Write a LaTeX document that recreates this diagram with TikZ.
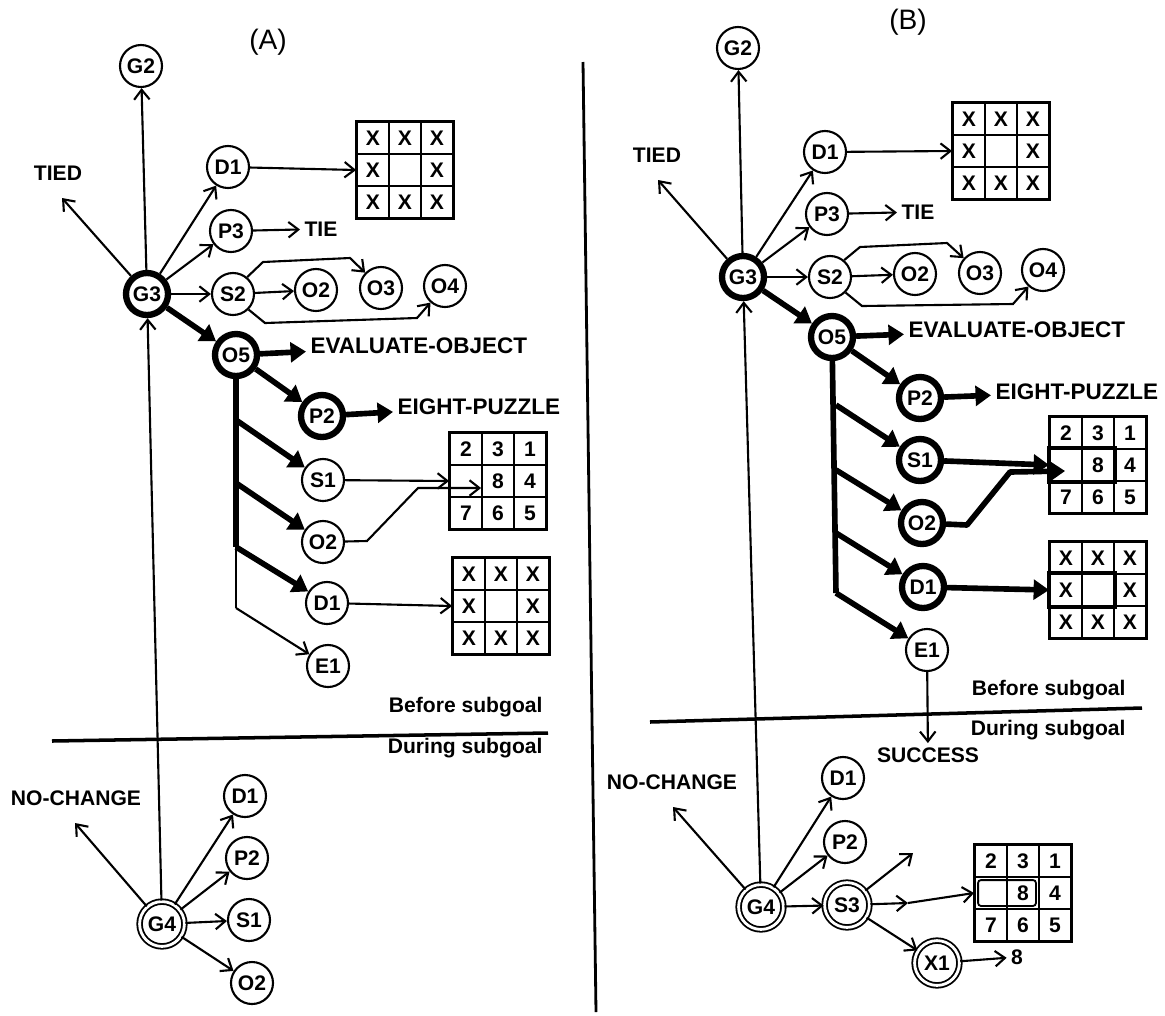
\documentclass[tikz,border=0pt]{standalone}
\usepackage{fontspec}
\setmainfont{Liberation Sans}
\usepackage{tikz}
\usetikzlibrary{arrows.meta,calc}
\tikzset{
	st/.style={circle,draw,line width=1.5pt,minimum size=1.05cm,inner sep=0pt,font=\fontsize{15}{17}\selectfont\bfseries},
	hst/.style={st,line width=4.5pt},
	dst/.style={st,double,double distance=2pt,line width=1.3pt,minimum size=1.12cm},
	cell/.style={draw,line width=1.3pt,minimum size=0.8cm,inner sep=0pt,font=\fontsize{15}{17}\selectfont\bfseries},
	lab/.style={font=\fontsize{15}{17}\selectfont\bfseries,inner sep=3pt},
	big/.style={font=\fontsize{16}{18}\selectfont\bfseries,inner sep=3pt},
	ttl/.style={font=\fontsize{20}{22}\selectfont},
	thn/.style={line width=1.5pt,-{Straight Barb[length=7pt,width=11pt]}},
	thk/.style={line width=4pt,line join=round,-{Triangle[length=11pt,width=14pt]}},
	rul/.style={line width=2.5pt}
}
\newcommand{\pzgrid}[3]{%
	\foreach \cv [count=\ix from 0] in {#3} {
		\pgfmathtruncatemacro\gr{\ix/3}
		\pgfmathtruncatemacro\gc{\ix-3*\gr}
		\node [cell] (#1-\ix) at ($(#2)+(\gc*32,\gr*32)$) {\cv};
	}
	\draw [line width=2pt] (#1-0.north west) rectangle (#1-8.south east);
}

\begin{document}
\begin{tikzpicture}[x=0.025cm,y=-0.025cm]
	\useasboundingbox (0,0) rectangle (1165,1015);

	\node [ttl] (ta) at (268,42) {(A)};
	\node [st] (g2a) at (141,66) {G2};
	\node [hst] (g3a) at (147,294) {G3};
	\node [st] (d1a) at (228,167) {D1};
	\node [st] (p3a) at (231,231) {P3};
	\node [st] (s2a) at (233,294) {S2};
	\node [st] (o2a) at (316,290) {O2};
	\node [st] (o3a) at (381,288) {O3};
	\node [st] (o4a) at (445,286) {O4};
	\node [hst] (o5a) at (236,355) {O5};
	\node [hst] (p2a) at (322,416) {P2};
	\node [st] (s1a) at (323,480) {S1};
	\node [st] (o2ba) at (323,542) {O2};
	\node [st] (d1ba) at (327,603) {D1};
	\node [st] (e1a) at (328,666) {E1};
	\node [dst] (g4a) at (162,924) {G4};
	\node [st] (d1ca) at (245,796) {D1};
	\node [st] (p2ca) at (247,858) {P2};
	\node [st] (s1ca) at (249,920) {S1};
	\node [st] (o2ca) at (252,983) {O2};

	\node [lab] (tieda) at (58,173) {TIED};
	\coordinate (tda) at (62,198);
	\node [lab,anchor=west] (tiea) at (300,229) {TIE};
	\node [big,anchor=west] (eva) at (306,346) {EVALUATE-OBJECT};
	\node [big,anchor=west] (epa) at (393,407) {EIGHT-PUZZLE};
	\node [lab,anchor=east] (bsa) at (547,707) {Before subgoal};
	\node [lab,anchor=east] (dsa) at (547,748) {During subgoal};
	\node [lab] (nca) at (76,798) {NO-CHANGE};
	\coordinate (nda) at (75,823);
	\coordinate (ja1) at (236,420);
	\coordinate (ja2) at (236,483);
	\coordinate (ja3) at (236,547);
	\coordinate (ja4) at (236,608);

	\pzgrid{ga}{373,138}{X,X,X,X,{},X,X,X,X}
	\pzgrid{pa}{466,449}{2,3,1,{},8,4,7,6,5}
	\pzgrid{xa}{469,574}{X,X,X,X,{},X,X,X,X}

	\draw [thn] (g3a) -- (g2a);
	\draw [thn] (g4a) -- (g3a);
	\draw [thn] (g3a) -- (tda);
	\draw [thn] (g3a) -- (d1a);
	\draw [thn] (g3a) -- (p3a);
	\draw [thn] (g3a) -- (s2a);
	\draw [thn] (d1a) -- (ga-3.west);
	\draw [thn] (p3a) -- (tiea);
	\draw [thn] (s2a) -- (o2a);
	\draw [thn] (s2a.50) -- (263,262) -- (350,258) -- (o3a);
	\draw [thn] (s2a.-45) -- (265,323) -- (417,318) -- (o4a);
	\draw [thk] (g3a) -- (o5a);
	\draw [thk] (o5a) -- (eva);
	\draw [thk] (o5a) -- (p2a);
	\draw [thk] (p2a) -- (epa);
	\draw [line width=4pt] (o5a) -- (ja3);
	\draw [line width=1.5pt] (ja3) -- (ja4);
	\draw [thk] (ja1) -- (s1a);
	\draw [thk] (ja2) -- (o2ba);
	\draw [thk] (ja3) -- (d1ba);
	\draw [thn] (ja4) -- (e1a);
	\draw [thn] (s1a) -- (pa-3.west);
	\draw [thn] (o2ba) -- (367,541) -- (418,488) -- ($(pa-4.west)+(0,7)$);
	\draw [thn] (d1ba) -- (xa-3.west);
	\draw [thn] (g4a) -- (nda);
	\draw [thn] (g4a) -- (d1ca);
	\draw [thn] (g4a) -- (p2ca);
	\draw [thn] (g4a) -- (s1ca);
	\draw [thn] (g4a) -- (o2ca);
	\draw [rul] (52,741) -- (548,733);

	\draw [line width=2pt] (583,62) -- (596,1012);

	\node [ttl] (tb) at (908,22) {(B)};
	\node [st] (g2b) at (738,48) {G2};
	\node [hst] (g3b) at (743,277) {G3};
	\node [st] (d1b) at (825,152) {D1};
	\node [st] (p3b) at (827,214) {P3};
	\node [st] (s2b) at (830,277) {S2};
	\node [st] (o2b) at (915,274) {O2};
	\node [st] (o3b) at (980,273) {O3};
	\node [st] (o4b) at (1043,270) {O4};
	\node [hst] (o5b) at (832,337) {O5};
	\node [hst] (p2b) at (920,398) {P2};
	\node [hst] (s1b) at (920,460) {S1};
	\node [hst] (o2bb) at (922,523) {O2};
	\node [hst] (d1bb) at (923,587) {D1};
	\node [st] (e1b) at (927,650) {E1};
	\node [dst] (g4b) at (761,907) {G4};
	\node [st] (d1cb) at (843,778) {D1};
	\node [st] (p2cb) at (845,842) {P2};
	\node [dst] (s3b) at (847,905) {S3};
	\node [dst] (x1b) at (937,963) {X1};

	\node [lab] (tiedb) at (657,155) {TIED};
	\coordinate (tdb) at (658,180);
	\node [lab,anchor=west] (tieb) at (897,212) {TIE};
	\node [big,anchor=west] (evb) at (904,330) {EVALUATE-OBJECT};
	\node [big,anchor=west] (epb) at (991,392) {EIGHT-PUZZLE};
	\node [lab,anchor=east] (bsb) at (1130,690) {Before subgoal};
	\node [lab,anchor=east] (dsb) at (1130,730) {During subgoal};
	\node [lab] (succ) at (928,755) {SUCCESS};
	\node [lab] (ncb) at (672,782) {NO-CHANGE};
	\coordinate (ndb) at (673,807);
	\node [lab] (eight) at (1017,957) {8};
	\coordinate (fr) at (913,853);
	\coordinate (cm) at (908,903);
	\coordinate (jb1) at (836,405);
	\coordinate (jb2) at (836,470);
	\coordinate (jb3) at (836,533);
	\coordinate (jb4) at (836,593);

	\pzgrid{gb}{969,119}{X,X,X,X,{},X,X,X,X}
	\pzgrid{pb}{1066,433}{2,3,1,{},8,4,7,6,5}
	\pzgrid{xb}{1066,558}{X,X,X,X,{},X,X,X,X}
	\pzgrid{pc}{991,861}{2,3,1,{},8,4,7,6,5}
	\draw [line width=3pt] (pb-3.north west) rectangle (pb-4.south east);
	\draw [line width=3pt] (xb-3.north west) rectangle (xb-4.south east);
	\draw [line width=1.3pt,rounded corners=2pt] ($(pc-3.north west)+(4,4)$) rectangle ($(pc-4.south east)+(-4,-4)$);

	\draw [thn] (g3b) -- (g2b);
	\draw [thn] (g4b) -- (g3b);
	\draw [thn] (g3b) -- (tdb);
	\draw [thn] (g3b) -- (d1b);
	\draw [thn] (g3b) -- (p3b);
	\draw [thn] (g3b) -- (s2b);
	\draw [thn] (d1b) -- (gb-3.west);
	\draw [thn] (p3b) -- (tieb);
	\draw [thn] (s2b) -- (o2b);
	\draw [thn] (s2b.50) -- (860,247) -- (947,243) -- (o3b);
	\draw [thn] (s2b.-45) -- (862,306) -- (1013,304) -- (o4b);
	\draw [thk] (g3b) -- (o5b);
	\draw [thk] (o5b) -- (evb);
	\draw [thk] (o5b) -- (p2b);
	\draw [thk] (p2b) -- (epb);
	\draw [line width=4pt] (o5b) -- (jb4);
	\draw [thk] (jb1) -- (s1b);
	\draw [thk] (jb2) -- (o2bb);
	\draw [thk] (jb3) -- (d1bb);
	\draw [thk] (jb4) -- (e1b);
	\draw [thk] (s1b) -- (pb-3.west);
	\draw [thk] (o2bb) -- (967,525) -- (1010,472) -- ($(pb-3.west)+(16,6)$);
	\draw [thk] (d1bb) -- (xb-3.west);
	\draw [thn] (e1b) -- (succ);
	\draw [thn] (g4b) -- (ndb);
	\draw [thn] (g4b) -- (d1cb);
	\draw [thn] (g4b) -- (p2cb);
	\draw [thn] (g4b) -- (s3b);
	\draw [thn] (s3b) -- (fr);
	\draw [thn] (s3b) -- (cm);
	\draw [thn] (cm) -- (pc-3.west);
	\draw [thn] (s3b) -- (x1b);
	\draw [thn] (x1b) -- (eight);
	\draw [rul] (650,722) -- (1142,708);
\end{tikzpicture}
\end{document}
